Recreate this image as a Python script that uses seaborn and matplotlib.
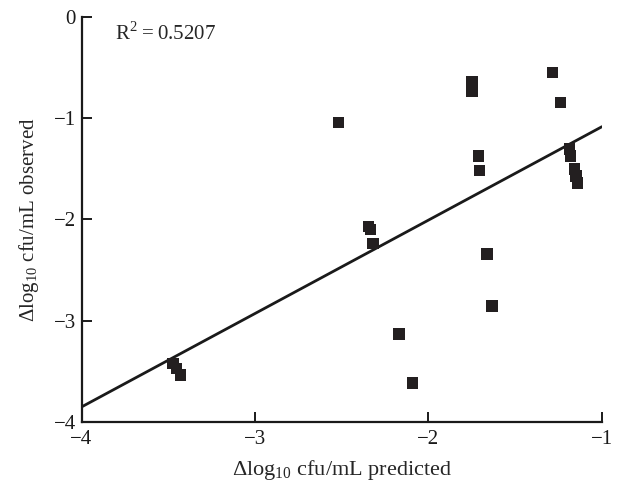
import matplotlib
matplotlib.use("Agg")
import matplotlib.pyplot as plt
import seaborn as sns
import pandas as pd

# Data
predicted = [-1.75, -1.75, -1.285, -1.24, -2.52, -1.712, -1.706,
             -1.186, -1.18, -1.158, -1.15, -1.14,
             -2.345, -2.335, -2.32, -1.662, -1.633, -2.171, -2.092,
             -3.472, -3.452, -3.43]
observed = [-0.645, -0.735, -0.553, -0.85, -1.046, -1.375, -1.52,
            -1.306, -1.375, -1.503, -1.572, -1.64,
            -2.07, -2.10, -2.237, -2.343, -2.856, -3.13, -3.616,
            -3.42, -3.47, -3.537]
fit_x = [-4.0, -1.0]
fit_y = [-3.85, -1.086]
r2_text = "R$^2$\u2009=\u20090.5207"
x_ticks = [-4, -3, -2, -1]
y_ticks = [0, -1, -2, -3, -4]

sns.set_theme(style="white")
plt.rcParams["font.family"] = ["Liberation Serif", "DejaVu Serif"]
plt.rcParams["mathtext.fontset"] = "custom"
plt.rcParams["mathtext.rm"] = "Liberation Serif"
plt.rcParams["axes.unicode_minus"] = True

df = pd.DataFrame({"pred": predicted, "obs": observed})
fit = pd.DataFrame({"x": fit_x, "y": fit_y})

fig = plt.figure(figsize=(6.18, 4.88), dpi=100)
ax = fig.add_axes([0.132, 0.135, 0.842, 0.831])

sns.lineplot(data=fit, x="x", y="y", ax=ax, color="#1a1a1a", linewidth=2.0)
sns.scatterplot(data=df, x="pred", y="obs", ax=ax, marker="s", s=68,
                color="#231f20", edgecolor="none", zorder=3)

ax.set_xlim(-4, -1)
ax.set_ylim(-4, 0)
ax.set_xticks(x_ticks)
ax.set_yticks(y_ticks)
ax.set_xticklabels([f"\u2212{abs(v)}" for v in x_ticks])
ax.set_yticklabels(["0"] + [f"\u2212{abs(v)}" for v in y_ticks[1:]])

for side in ["top", "right"]:
    ax.spines[side].set_visible(False)
for side in ["left", "bottom"]:
    ax.spines[side].set_color("#1a1a1a")
    ax.spines[side].set_linewidth(1.6)

ax.tick_params(axis="both", direction="in", length=7, width=1.4,
               colors="#1a1a1a", labelsize=15, pad=4,
               bottom=True, left=True)
ax.tick_params(axis="x", pad=6)

ax.set_xlabel("\u0394log$_{10}$ cfu/mL predicted", fontsize=16, labelpad=6)
ax.set_ylabel("\u0394log$_{10}$ cfu/mL observed", fontsize=15, labelpad=9)

ax.text(0.064, 0.985, r2_text, transform=ax.transAxes, fontsize=15,
        ha="left", va="top")

fig.savefig("out.png", dpi=100)
